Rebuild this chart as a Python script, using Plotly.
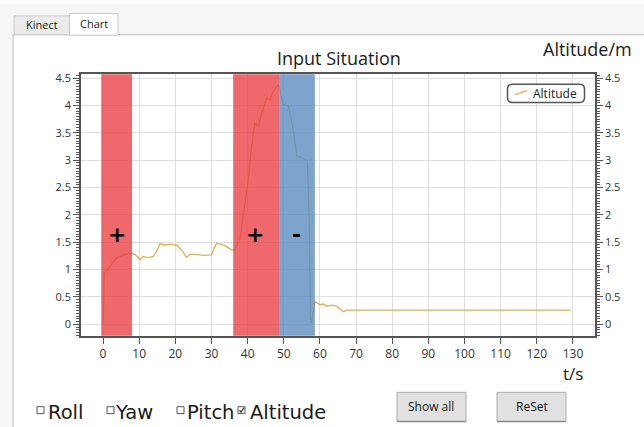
import plotly.graph_objects as go

W, H = 644, 427

# ---- data ----
time_s = [0, 0.1, 0.35, 1.9, 3.8, 5.6, 7.9, 9.0, 10.2, 11.1, 12.5, 13.9, 14.8, 15.8, 16.7,
          18.5, 20.3, 21.2, 22.1, 23.1, 24.0, 25.8, 27.7, 30.0, 31.4, 32.8, 34.2, 35.6,
          36.2, 37.0, 37.9, 38.6, 39.3, 40.2, 41.1, 42.0, 43.0, 43.9, 45.3, 46.2, 47.1,
          48.5, 49.9, 51.3, 52.5, 53.6, 55.0, 56.5, 57.0, 57.4, 57.7, 58.6, 60.0, 60.9,
          61.9, 63.3, 64.6, 65.6, 66.5, 67.4, 129.4]
altitude_m = [0, 0.3, 0.92, 1.06, 1.21, 1.27, 1.30, 1.27, 1.18, 1.24, 1.22, 1.24, 1.33, 1.48, 1.45,
              1.46, 1.45, 1.39, 1.33, 1.22, 1.28, 1.28, 1.26, 1.27, 1.48, 1.46, 1.42, 1.36,
              1.35, 1.45, 1.55, 1.9, 2.2, 2.66, 3.26, 3.68, 3.62, 3.86, 4.14, 4.10, 4.26,
              4.38, 4.02, 3.99, 3.6, 3.08, 3.05, 2.99, 2.0, 0.04, 0.03, 0.41, 0.36, 0.37,
              0.33, 0.35, 0.33, 0.27, 0.23, 0.26, 0.26]
series_name = "Altitude"

# input phases
phase_start = [-0.5, 36.0, 48.7]
phase_end = [8.0, 48.7, 58.6]
phase_kind = ["up", "up", "down"]
phase_label = ["+", "+", "-"]
label_t = [3.9, 42.0, 53.4]
label_alt = [1.64, 1.64, 1.64]

x_ticks = list(range(0, 131, 10))
y_ticks = [0, 0.5, 1, 1.5, 2, 2.5, 3, 3.5, 4, 4.5]
x_range = [-6.1, 136.1]
y_range = [-0.212, 4.571]

checkbox_names = ["Roll", "Yaw", "Pitch", "Altitude"]
checkbox_checked = [False, False, False, True]
button_names = ["Show all", "ReSet"]

# ---- helpers: pixel -> paper ----
def px(x):
    return x / W

def py(y):
    return 1 - y / H

FONT = "Open Sans, Noto Sans, sans-serif"
TXT = "#1a1a1a"
LINE_COLOR = "#DDB055"

fig = go.Figure()
fig.add_trace(go.Scatter(x=time_s, y=altitude_m, mode="lines", name=series_name,
                         line=dict(color=LINE_COLOR, width=1.3), xaxis="x", yaxis="y",
                         showlegend=False))
fig.add_trace(go.Scatter(x=[], y=[], xaxis="x", yaxis="y2", showlegend=False, hoverinfo="skip"))

shapes = []
annotations = []

def label(text, x, y, size, family=FONT, color=TXT, xanchor="center"):
    annotations.append(dict(text=text, xref="paper", yref="paper", x=px(x), y=py(y),
                            xanchor=xanchor, yanchor="middle", showarrow=False,
                            font=dict(family=family, size=size, color=color)))

# window chrome
shapes.append(dict(type="rect", xref="paper", yref="paper", x0=0, x1=1, y0=0, y1=1,
                   fillcolor="#f6f6f6", line=dict(width=0), layer="below"))
shapes.append(dict(type="rect", xref="paper", yref="paper", x0=px(13), x1=px(660), y0=py(440), y1=py(31),
                   fillcolor="white", line=dict(color="#c9c9c9", width=1.2), layer="below"))
shapes.append(dict(type="rect", xref="paper", yref="paper", x0=px(14), x1=px(69.5), y0=py(31), y1=py(12),
                   fillcolor="#ebebeb", line=dict(color="#c9c9c9", width=1), layer="below"))
shapes.append(dict(type="rect", xref="paper", yref="paper", x0=px(69.5), x1=px(118), y0=py(31.5), y1=py(9.5),
                   fillcolor="white", line=dict(color="#c9c9c9", width=1), layer="below"))
label("Kinect", 41.5, 21, 11)
label("Chart", 94, 20, 11)

# phase bands (semi-transparent, above the line)
band_color = {"up": "rgb(234,66,71)", "down": "rgb(91,141,191)"}
for s, e, k in zip(phase_start, phase_end, phase_kind):
    shapes.append(dict(type="rect", xref="x", yref="y domain", x0=s, x1=e, y0=0, y1=1,
                       fillcolor=band_color[k], opacity=0.8, line=dict(width=0), layer="above"))
for lab, t, a in zip(phase_label, label_t, label_alt):
    annotations.append(dict(text="<b>%s</b>" % lab, x=t, y=a, xref="x", yref="y", showarrow=False,
                            xanchor="center", yanchor="middle",
                            font=dict(family="DejaVu Sans", size=22, color="black")))

# titles
label("Input Situation", 339, 55, 18)
label("Altitude/m", 587, 45, 18)
label("t/s", 573, 373, 17)

# legend (rounded box, short line sample, series name)
def rrect(x0, y0, x1, y1, r):
    X = lambda v: px(v)
    Y = lambda v: py(v)
    return ("M %f,%f L %f,%f Q %f,%f %f,%f L %f,%f Q %f,%f %f,%f L %f,%f Q %f,%f %f,%f L %f,%f Q %f,%f %f,%f Z" % (
        X(x0 + r), Y(y0), X(x1 - r), Y(y0), X(x1), Y(y0), X(x1), Y(y0 + r),
        X(x1), Y(y1 - r), X(x1), Y(y1), X(x1 - r), Y(y1),
        X(x0 + r), Y(y1), X(x0), Y(y1), X(x0), Y(y1 - r),
        X(x0), Y(y0 + r), X(x0), Y(y0), X(x0 + r), Y(y0)))

shapes.append(dict(type="path", xref="paper", yref="paper", path=rrect(507.5, 81, 584.5, 99.5, 5),
                   fillcolor="white", line=dict(color="#555555", width=1.5), layer="above"))
shapes.append(dict(type="line", xref="paper", yref="paper", x0=px(515), x1=px(527), y0=py(91.5), y1=py(87.5),
                   line=dict(color=LINE_COLOR, width=1.3), layer="above"))
label(series_name, 530.5, 90, 12, xanchor="left")

# checkboxes
cb_box_x = [37, 107, 177, 238]
cb_text_x = [46, 113, 185, 248]
for name, chk, bx, tx in zip(checkbox_names, checkbox_checked, cb_box_x, cb_text_x):
    shapes.append(dict(type="rect", xref="paper", yref="paper", x0=px(bx), x1=px(bx + 7),
                       y0=py(413.5), y1=py(406.5), line=dict(color="#555555", width=1), fillcolor="white"))
    if chk:
        shapes.append(dict(type="path", xref="paper", yref="paper",
                           path="M %f,%f L %f,%f L %f,%f" % (px(bx + 1.5), py(410), px(bx + 3), py(412), px(bx + 6), py(407.5)),
                           line=dict(color="#333333", width=1.2)))
    label(name, tx, 412, 19.5, family="DejaVu Sans", xanchor="left")

# buttons
btn_x0 = [397, 497]
for name, bx in zip(button_names, btn_x0):
    shapes.append(dict(type="rect", xref="paper", yref="paper", x0=px(bx), x1=px(bx + 69),
                       y0=py(421.5), y1=py(392), fillcolor="#e1e1e1", line=dict(color="#adadad", width=1)))
    shapes.append(dict(type="line", xref="paper", yref="paper", x0=px(bx), x1=px(bx + 69),
                       y0=py(421.5), y1=py(421.5), line=dict(color="#8a8a8a", width=1.5)))
    label(name, bx + 34.5, 406.5, 12)

axis_common = dict(showline=True, linecolor="#555555", linewidth=1.5, ticks="outside",
                   tickcolor="#555555", zeroline=False, fixedrange=True)

fig.update_layout(
    width=W, height=H, margin=dict(l=0, r=0, t=0, b=0),
    paper_bgcolor="white", plot_bgcolor="white",
    showlegend=False,
    xaxis=dict(domain=[px(81), px(595)], range=x_range, tickvals=x_ticks, ticklen=6,
               showgrid=True, gridcolor="#dedede", gridwidth=1, mirror=True, anchor="y",
               tickfont=dict(family=FONT, size=12, color="#333333"), **axis_common),
    yaxis=dict(domain=[py(335), py(71)], range=y_range, tickvals=y_ticks, ticklen=6,
               showgrid=True, gridcolor="#dedede", gridwidth=1, anchor="x",
               tickfont=dict(family=FONT, size=11, color="#333333"),
               minor=dict(dtick=0.05, ticklen=3, tickcolor="#555555", ticks="outside", showgrid=False),
               **axis_common),
    yaxis2=dict(domain=[py(335), py(71)], range=y_range, tickvals=y_ticks, ticklen=6, overlaying="y",
                side="right", anchor="x", showgrid=False,
                tickfont=dict(family=FONT, size=11, color="#333333"),
                minor=dict(dtick=0.05, ticklen=3, tickcolor="#555555", ticks="outside", showgrid=False),
                **axis_common),
    shapes=shapes, annotations=annotations,
)

fig.write_html("out.html", config={"displayModeBar": False},
               post_script="document.body.style.margin='0px';")
